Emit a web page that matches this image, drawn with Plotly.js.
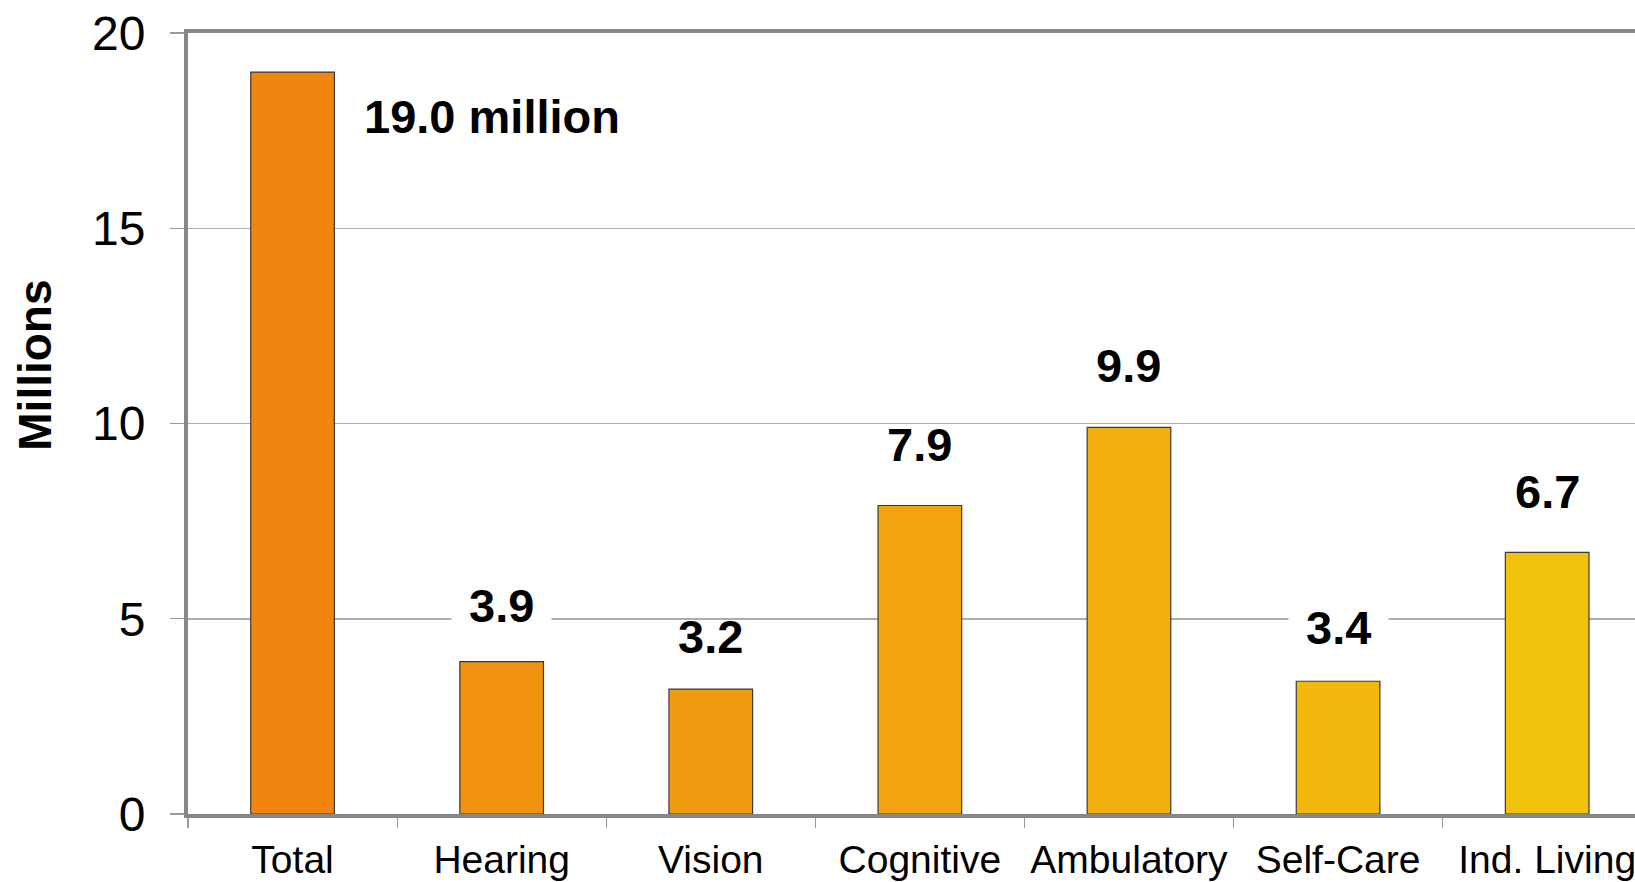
<!DOCTYPE html>
<html>
<head>
<meta charset="utf-8">
<script src="https://cdn.plot.ly/plotly-3.0.1.min.js"></script>
<style>html,body{margin:0;padding:0;background:#fff;overflow:hidden}#chart{width:1635px;height:882px}</style>
</head>
<body>
<div id="chart"></div>
<script>
const categories = ["Total", "Hearing", "Vision", "Cognitive", "Ambulatory", "Self-Care", "Ind. Living"];
const values = [19.0, 3.9, 3.2, 7.9, 9.9, 3.4, 6.7];
const valueLabels = ["19.0 million", "3.9", "3.2", "7.9", "9.9", "3.4", "6.7"];
const yTicks = [0, 5, 10, 15, 20];

const barColors = ["#F0850F", "#F0910F", "#F19C10", "#F1A410", "#F2AE0F", "#F2B80E", "#F2C10C"];
const labelShift = [-44, 56, 53, 61, 62, 54, 61];
const labelMask = [false, true, false, false, false, true, false];

const annotations = categories.map((c, i) => {
  const isTotal = i === 0;
  return {
    x: c, y: values[i], xref: 'x', yref: 'y',
    text: valueLabels[i], showarrow: false,
    xanchor: isTotal ? 'left' : 'center', yanchor: 'middle',
    xshift: isTotal ? 70 : 0, yshift: labelShift[i],
    bgcolor: labelMask[i] ? '#ffffff' : 'rgba(0,0,0,0)',
    borderpad: labelMask[i] ? 17 : 0,
    font: {family: 'Liberation Sans, Arial, sans-serif', size: 47, color: '#000', weight: 'bold'}
  };
});
annotations.push({
  xref: 'paper', yref: 'paper', x: 0, y: 0.574,
  xshift: -153, text: '<b>Millions</b>', showarrow: false, textangle: -90,
  xanchor: 'center', yanchor: 'middle',
  font: {family: 'Liberation Sans, Arial, sans-serif', size: 46, color: '#000'}
});

const data = [{
  type: 'bar', x: categories, y: values,
  marker: {color: barColors, line: {color: '#3A3A3A', width: 1.2}},
  hoverinfo: 'skip'
}];

const layout = {
  width: 1635, height: 882,
  margin: {l: 188, r: 0, t: 33, b: 68, pad: 0},
  paper_bgcolor: '#fff', plot_bgcolor: '#fff',
  showlegend: false, bargap: 0.6,
  font: {family: 'Liberation Sans, Arial, sans-serif', color: '#000'},
  xaxis: {
    type: 'category', range: [-0.5, 6.42], automargin: false,
    showline: true, linecolor: '#878787', linewidth: 4, mirror: true,
    ticks: 'outside', tickson: 'boundaries', ticklen: 10, tickwidth: 1.2, tickcolor: '#999',
    tickangle: 0,
    tickfont: {size: 39, color: '#000'}, ticklabelstandoff: 8,
    showgrid: false, zeroline: false, fixedrange: true
  },
  yaxis: {
    range: [0, 20], tickvals: yTicks, automargin: false,
    showline: true, linecolor: '#878787', linewidth: 4,
    ticks: 'outside', ticklen: 14, tickwidth: 1.2, tickcolor: '#999',
    tickfont: {size: 48, color: '#000'}, ticklabelstandoff: 15,
    showgrid: true, gridcolor: '#ADADAD', gridwidth: 1.5,
    zeroline: false, fixedrange: true
  },
  annotations: annotations
};

Plotly.newPlot('chart', data, layout, {displayModeBar: false, staticPlot: true});
</script>
</body>
</html>
